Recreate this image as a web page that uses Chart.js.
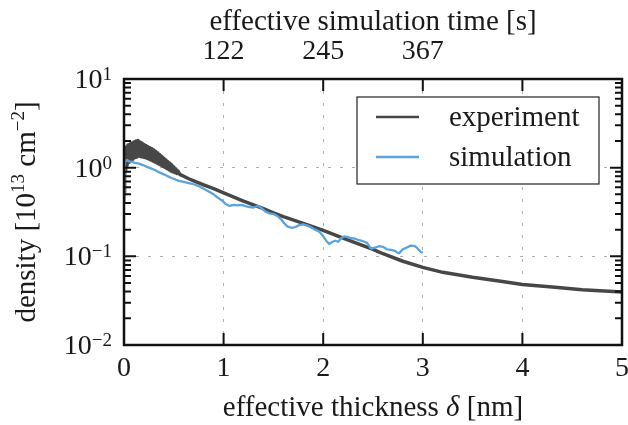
<!DOCTYPE html>
<html><head><meta charset="utf-8">
<script src="https://cdn.jsdelivr.net/npm/chart.js@4/dist/chart.umd.min.js"></script>
<style>html,body{margin:0;padding:0;background:#fff;}canvas{display:block}</style>
</head><body>
<canvas id="c" width="628" height="425"></canvas>
<script>
// ---- data ----
const expX=[0,0.004,0.008,0.012,0.016,0.02,0.03,0.04,0.05,0.06,0.07,0.08,0.09,0.10,0.11,0.12,0.13,0.14,0.15,0.16,0.17,0.18,0.19,0.20,0.21,0.22,0.23,0.24,0.25,0.26,0.27,0.28,0.29,0.30,0.31,0.32,0.33,0.34,0.35,0.36,0.37,0.38,0.39,0.40,0.41,0.42,0.43,0.44,0.45,0.46,0.47,0.48,0.49,0.50,0.51,0.52,0.53,0.54,0.56,0.58,0.60,0.65,0.70,0.80,0.90,1.0,1.2,1.4,1.5,1.6,1.8,2.0,2.2,2.4,2.5,2.6,2.8,3.0,3.2,3.5,3.8,4.0,4.3,4.6,5.0];
const expY=[0.50,1.40,0.75,1.60,0.95,1.70,1.05,1.80,1.15,1.85,1.20,1.90,1.25,1.95,1.30,2.00,1.32,2.02,1.35,1.95,1.33,1.90,1.32,1.82,1.30,1.78,1.28,1.72,1.25,1.68,1.22,1.63,1.19,1.58,1.16,1.52,1.13,1.46,1.10,1.40,1.07,1.34,1.04,1.28,1.01,1.22,0.98,1.17,0.95,1.12,0.92,1.07,0.90,1.02,0.88,0.97,0.86,0.92,0.84,0.82,0.80,0.75,0.71,0.64,0.58,0.52,0.42,0.345,0.31,0.28,0.235,0.196,0.16,0.132,0.12,0.107,0.088,0.075,0.066,0.058,0.052,0.048,0.045,0.042,0.0395];
const simX=[0,0.004,0.008,0.015,0.03,0.05,0.08,0.11,0.15,0.19,0.23,0.27,0.31,0.35,0.39,0.43,0.47,0.51,0.55,0.6,0.65,0.7,0.75,0.8,0.85,0.9,0.94,0.98,1.02,1.06,1.1,1.14,1.18,1.22,1.26,1.3,1.34,1.38,1.42,1.46,1.5,1.54,1.58,1.61,1.64,1.68,1.72,1.76,1.8,1.84,1.88,1.92,1.96,2.0,2.03,2.06,2.09,2.12,2.15,2.18,2.21,2.24,2.28,2.32,2.36,2.4,2.44,2.48,2.52,2.56,2.6,2.64,2.68,2.72,2.76,2.8,2.84,2.88,2.92,2.95,2.98,3.0];
const simY=[0.42,0.75,1.05,1.2,1.22,1.18,1.16,1.13,1.11,1.07,1.02,0.98,0.94,0.89,0.85,0.81,0.77,0.74,0.71,0.69,0.67,0.65,0.62,0.58,0.54,0.5,0.46,0.43,0.39,0.37,0.38,0.375,0.38,0.368,0.36,0.355,0.37,0.35,0.32,0.305,0.3,0.285,0.26,0.235,0.218,0.21,0.214,0.225,0.23,0.222,0.212,0.2,0.19,0.168,0.15,0.138,0.145,0.15,0.146,0.16,0.168,0.166,0.16,0.158,0.152,0.148,0.142,0.122,0.125,0.13,0.128,0.12,0.118,0.115,0.108,0.12,0.126,0.132,0.13,0.122,0.112,0.11];
const seriesLabels=['experiment','simulation'];
const seriesColors=['#474747','#5aa3dc'];
const xTicks=[0,1,2,3,4,5];
const topTickPositions=[1,2,3];
const topTickLabels=['122','245','367'];
const yMajorTicks=[0.01,0.1,1,10];
const yTickExponents=['\u22122','\u22121','0','1'];
const topTitle='effective simulation time [s]';

const FONT="'Liberation Serif','Times New Roman',serif";
const TXT='#1a1a1a';

function drawSegments(ctx, segs, x, y, align){
  let total=0;
  segs.forEach(s=>{ctx.font=(s.it?'italic ':'')+s.size+'px '+FONT; s.w=ctx.measureText(s.t).width; total+=s.w;});
  let cx = align==='center'? x-total/2 : x;
  ctx.textAlign='left'; ctx.textBaseline='alphabetic';
  segs.forEach(s=>{ctx.font=(s.it?'italic ':'')+s.size+'px '+FONT; ctx.fillText(s.t,cx,y+(s.dy||0)); cx+=s.w;});
}

const deco={id:'deco',
  afterDatasetsDraw(chart){
    const {ctx, chartArea:a, scales}=chart; const xs=scales.x, ys=scales.y;
    ctx.save();
    ctx.strokeStyle='#111'; ctx.lineWidth=2;
    ctx.beginPath();
    xTicks.forEach(v=>{ if(v<=xs.min||v>=xs.max) return; const px=xs.getPixelForValue(v);
      ctx.moveTo(px,a.bottom); ctx.lineTo(px,a.bottom-12); ctx.moveTo(px,a.top); ctx.lineTo(px,a.top+12);});
    for(let e=-2;e<=0;e++){ for(let m=1;m<=9;m++){ const v=m*Math.pow(10,e); if(v<=ys.min||v>=ys.max) continue;
      const py=ys.getPixelForValue(v); const L=(m===1)?12:7;
      ctx.moveTo(a.left,py); ctx.lineTo(a.left+L,py); ctx.moveTo(a.right,py); ctx.lineTo(a.right-L,py);} }
    ctx.stroke();
    ctx.lineWidth=2.5; ctx.strokeRect(a.left,a.top,a.right-a.left,a.bottom-a.top);
    // legend
    const bx=a.right-265, by=a.top+18, bw=242, bh=87;
    ctx.fillStyle='#fff'; ctx.fillRect(bx,by,bw,bh);
    ctx.lineWidth=1.2; ctx.strokeStyle='#222'; ctx.strokeRect(bx,by,bw,bh);
    chart.data.datasets.forEach((ds,i)=>{
      const ly=by+20+i*40;
      ctx.strokeStyle=ds.borderColor; ctx.lineWidth=2.5;
      ctx.beginPath(); ctx.moveTo(bx+19,ly); ctx.lineTo(bx+62,ly); ctx.stroke();
      ctx.fillStyle=TXT; ctx.font='29px '+FONT; ctx.textAlign='left'; ctx.textBaseline='alphabetic';
      ctx.fillText(ds.label,bx+92,ly+9);
    });
    ctx.restore();
  },
  afterDraw(chart){
    const {ctx, chartArea:a, scales}=chart; const ys=scales.y;
    ctx.save(); ctx.fillStyle=TXT;
    yMajorTicks.forEach((v,i)=>{
      const py=ys.getPixelForValue(v);
      ctx.font='19px '+FONT; const ew=ctx.measureText(yTickExponents[i]).width;
      ctx.textAlign='right'; ctx.textBaseline='alphabetic';
      ctx.fillText(yTickExponents[i], a.left-12, py+1);
      ctx.font='28px '+FONT; ctx.fillText('10', a.left-12-ew, py+9);
    });
    // titles
    const cx=(a.left+a.right)/2;
    drawSegments(ctx,[{t:topTitle,size:29}],cx,30,'center');
    drawSegments(ctx,[{t:'effective thickness ',size:29},{t:'\u03b4',size:29,it:true},{t:' [nm]',size:29}],cx,416,'center');
    ctx.save(); ctx.translate(35,(a.top+a.bottom)/2); ctx.rotate(-Math.PI/2);
    drawSegments(ctx,[{t:'density [10',size:29},{t:'13',size:19,dy:-11},{t:' cm',size:29},{t:'\u22122',size:19,dy:-11},{t:']',size:29}],0,0,'center');
    ctx.restore();
    ctx.restore();
  }
};

const noPad=s=>{s.paddingLeft=0;s.paddingRight=0;s.paddingTop=0;s.paddingBottom=0;};

new Chart(document.getElementById('c'),{
  type:'line',
  data:{datasets:[
    {label:seriesLabels[0],data:expX.map((x,i)=>({x,y:expY[i]})),borderColor:seriesColors[0],borderWidth:3.5,borderJoinStyle:'round',borderCapStyle:'round',pointRadius:0,tension:0,order:1},
    {label:seriesLabels[1],data:simX.map((x,i)=>({x,y:simY[i]})),borderColor:seriesColors[1],borderWidth:2.3,borderJoinStyle:'round',pointRadius:0,tension:0,order:0}
  ]},
  options:{
    responsive:false, animation:false,
    layout:{padding:{left:0,right:6,top:0,bottom:0}},
    plugins:{legend:{display:false},tooltip:{enabled:false}},
    scales:{
      x:{type:'linear',position:'bottom',min:0,max:5,
        afterBuildTicks:s=>{s.ticks=xTicks.map(v=>({value:v}));},
        afterFit:s=>{s.height=80;noPad(s);},
        grid:{drawTicks:false,color:'#b0b0b0',lineWidth:1},
        border:{display:false,dash:[3,9]},
        ticks:{padding:7,color:TXT,font:{family:FONT,size:28},maxRotation:0}},
      x2:{type:'linear',position:'top',min:0,max:5,
        afterBuildTicks:s=>{s.ticks=topTickPositions.map(v=>({value:v}));},
        afterFit:s=>{s.height=79;noPad(s);},
        grid:{display:false,drawTicks:false},
        border:{display:false},
        ticks:{padding:11,color:TXT,font:{family:FONT,size:28},maxRotation:0,
          callback:(v)=>{const i=topTickPositions.indexOf(v);return i>=0?topTickLabels[i]:'';}}},
      y:{type:'logarithmic',min:0.01,max:10,
        afterBuildTicks:s=>{s.ticks=yMajorTicks.map(v=>({value:v}));},
        afterFit:s=>{s.width=124;noPad(s);},
        grid:{drawTicks:false,color:'#b0b0b0',lineWidth:1},
        border:{display:false,dash:[3,9]},
        ticks:{display:false}}
    }
  },
  plugins:[deco]
});
</script>
</body></html>
